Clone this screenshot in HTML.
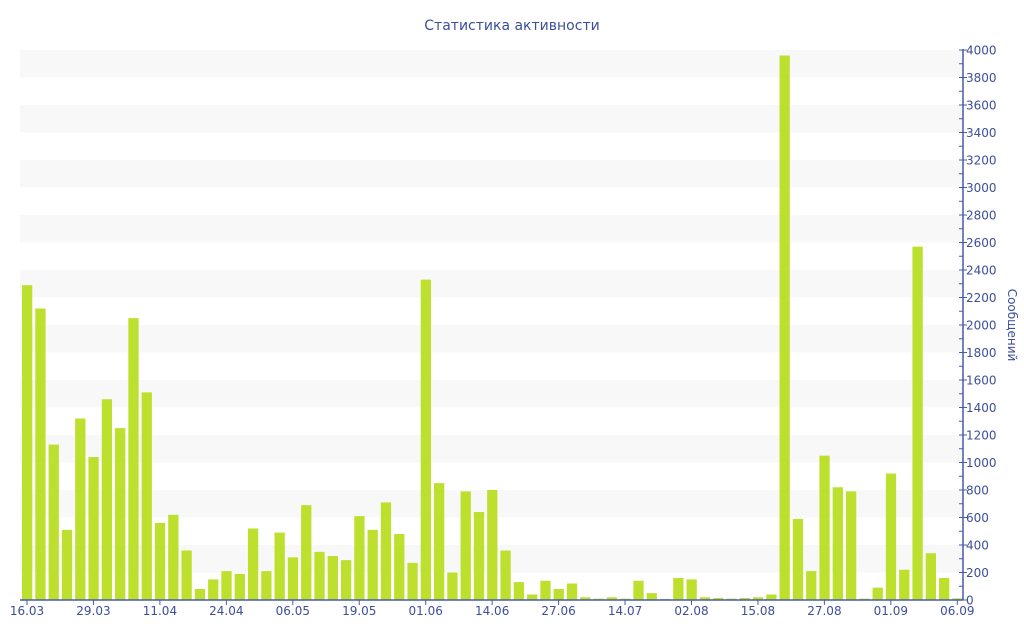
<!DOCTYPE html>
<html><head><meta charset="utf-8"><style>
html,body{margin:0;padding:0;background:#fff;width:1024px;height:640px;overflow:hidden}
svg{display:block;font-family:"DejaVu Sans","Liberation Sans",sans-serif}
</style></head><body>
<svg id="c" width="1024" height="640" xmlns="http://www.w3.org/2000/svg">
<text x="512" y="30" text-anchor="middle" font-size="14" fill="#3c4f9a">Статистика активности</text>
<text transform="translate(1008,325) rotate(90)" text-anchor="middle" font-size="12" fill="#3c4f9a">Сообщений</text>
</svg>
<script>
var s=document.getElementById('c'),NS='http://www.w3.org/2000/svg';
function el(t,a,txt){var e=document.createElementNS(NS,t);for(var k in a)e.setAttribute(k,a[k]);if(txt)e.textContent=txt;s.appendChild(e);return e;}
function Y(v){return 600-v*550/4000;}
for(var v=200;v<4000;v+=400){el('rect',{x:20,y:Y(v+200),width:943,height:27.5,fill:'#f8f8f8'});}
var d=[2290,2120,1130,510,1320,1040,1460,1250,2050,1510,560,620,360,80,150,210,190,520,210,490,310,690,350,320,290,610,510,710,480,270,2330,850,200,790,640,800,360,130,40,140,80,120,20,10,20,10,140,50,8,160,150,20,15,10,15,20,40,3960,590,210,1050,820,790,10,90,920,220,2570,340,160,12];
for(var i=0;i<d.length;i++){var x=22+i*13.29;el('rect',{x:x,y:Y(d[i]),width:10.3,height:d[i]*550/4000,fill:'#bde02f'});}
el('line',{x1:20,y1:600,x2:963,y2:600,stroke:'#4a5aa8','stroke-width':1.5});
el('line',{x1:963,y1:49,x2:963,y2:600,stroke:'#4a5aa8','stroke-width':1.5});
for(var v=0;v<=4000;v+=100){var y=Y(v);if(v%200==0){el('line',{x1:959,y1:y,x2:967,y2:y,stroke:'#4a5aa8'});el('text',{x:966,y:y+4.5,'font-size':12,fill:'#3c4f9a'},String(v));}else el('line',{x1:959,y1:y,x2:963,y2:y,stroke:'#4a5aa8'});}
var L=['16.03','29.03','11.04','24.04','06.05','19.05','01.06','14.06','27.06','14.07','02.08','15.08','27.08','01.09','06.09'];
for(var j=0;j<L.length;j++){var x=27+j*5*13.29;el('line',{x1:x,y1:600,x2:x,y2:605,stroke:'#4a5aa8'});el('text',{x:x,y:615,'font-size':12,fill:'#3c4f9a','text-anchor':'middle'},L[j]);}
</script>
</body></html>
